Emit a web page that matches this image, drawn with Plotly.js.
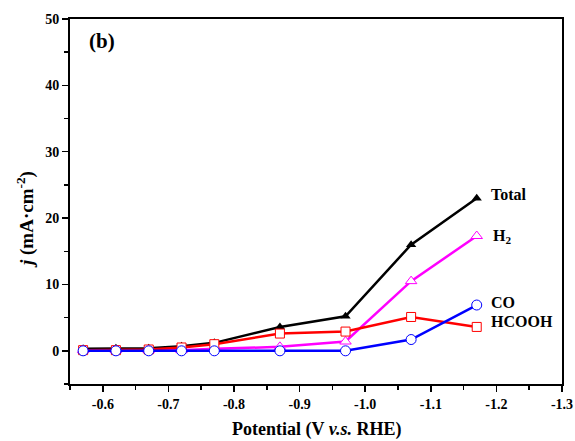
<!DOCTYPE html>
<html>
<head>
<meta charset="utf-8">
<script src="https://cdn.plot.ly/plotly-3.0.1.min.js"></script>
<style>html,body{margin:0;padding:0;background:#fff;}#chart{width:575px;height:441px;}</style>
</head>
<body>
<div id="chart"></div>
<script>
const potential = [-0.57, -0.62, -0.67, -0.72, -0.77, -0.87, -0.97, -1.07, -1.17];
const total = [0.3, 0.4, 0.4, 0.7, 1.2, 3.6, 5.2, 16.0, 23.0];
const h2 = [0.1, 0.1, 0.1, 0.1, 0.3, 0.6, 1.4, 10.5, 17.3];
const hcooh = [0.1, 0.1, 0.2, 0.5, 1.0, 2.6, 2.9, 5.1, 3.6];
const co = [0.0, 0.0, 0.0, 0.0, 0.0, 0.0, 0.0, 1.7, 6.9];
const seriesLabels = ["Total", "H<sub>2</sub>", "CO", "HCOOH"];
const xTicks = [-0.6, -0.7, -0.8, -0.9, -1.0, -1.1, -1.2, -1.3];
const xTickText = ["<b>-0.6</b>", "<b>-0.7</b>", "<b>-0.8</b>", "<b>-0.9</b>", "<b>-1.0</b>", "<b>-1.1</b>", "<b>-1.2</b>", "<b>-1.3</b>"];
const yTicks = [0, 10, 20, 30, 40, 50];
const yTickText = ["<b>0</b>", "<b>10</b>", "<b>20</b>", "<b>30</b>", "<b>40</b>", "<b>50</b>"];
const xTitle = "<b>Potential (V <i>v.s.</i> RHE)</b>";
const yTitle = "<b><i>j</i> (mA·cm<sup>-2</sup>)</b>";

const font = "Times New Roman, Liberation Serif, serif";
const traces = [
  {x: potential, y: total, mode: "lines+markers", line: {color: "#000000", width: 2.5},
   marker: {symbol: "triangle-up", size: 9, color: "#000000"}},
  {x: potential, y: h2, mode: "lines+markers", line: {color: "#ff00ff", width: 2.5},
   marker: {symbol: "triangle-up", size: 10, color: "#ffffff", line: {color: "#ff00ff", width: 1}}},
  {x: potential, y: hcooh, mode: "lines+markers", line: {color: "#ff0000", width: 2.5},
   marker: {symbol: "square", size: 9, color: "#ffffff", line: {color: "#ff0000", width: 1}}},
  {x: potential, y: co, mode: "lines+markers", line: {color: "#0000ff", width: 2.5},
   marker: {symbol: "circle", size: 10, color: "#ffffff", line: {color: "#0000ff", width: 1}}}
];

const labelX = [-1.1885, -1.1915, -1.189, -1.1885];
const labelY = [23.6, 17.2, 7.3, 4.4];
const annotations = seriesLabels.map((t, i) => ({
  x: labelX[i], y: labelY[i], xref: "x", yref: "y", text: "<b>" + t + "</b>",
  showarrow: false, xanchor: "left", yanchor: "middle",
  font: {family: font, size: 16, color: "#000"}
}));
annotations.push({x: -0.5755, y: 46.7, xref: "x", yref: "y", text: "<b>(b)</b>", showarrow: false,
  xanchor: "left", yanchor: "middle", font: {family: font, size: 21, color: "#000"}});
annotations.push({x: 0.5, y: -0.126, xref: "paper", yref: "paper", text: xTitle, showarrow: false,
  xanchor: "center", yanchor: "middle", font: {family: font, size: 18, color: "#000"}});
annotations.push({x: -0.0915, y: 0.452, xref: "paper", yref: "paper", text: yTitle, showarrow: false,
  textangle: -90, xanchor: "center", yanchor: "middle", font: {family: font, size: 19, color: "#000"}});

const layout = {
  width: 575, height: 441,
  margin: {l: 70, r: 13, t: 19, b: 57},
  paper_bgcolor: "#ffffff", plot_bgcolor: "#ffffff",
  showlegend: false,
  font: {family: font, color: "#000"},
  xaxis: {
    range: [-0.55, -1.3], autorange: false,
    tickvals: xTicks, ticktext: xTickText,
    ticks: "outside", ticklen: 6, tickwidth: 1.5, tickcolor: "#000",
    minor: {dtick: 0.05, tick0: -0.55, ticks: "outside", ticklen: 4, tickwidth: 1.5, tickcolor: "#000"},
    showline: true, linecolor: "#000", linewidth: 2, mirror: true,
    showgrid: false, zeroline: false,
    tickfont: {family: font, size: 14, color: "#000"}
  },
  yaxis: {
    range: [-5, 50], autorange: false,
    tickvals: yTicks, ticktext: yTickText,
    ticks: "outside", ticklen: 6, tickwidth: 1.5, tickcolor: "#000",
    minor: {dtick: 5, tick0: 0, ticks: "outside", ticklen: 4, tickwidth: 1.5, tickcolor: "#000"},
    showline: true, linecolor: "#000", linewidth: 2, mirror: true,
    showgrid: false, zeroline: false,
    tickfont: {family: font, size: 14, color: "#000"}
  },
  annotations: annotations
};

Plotly.newPlot("chart", traces, layout, {displayModeBar: false, staticPlot: true});
</script>
</body>
</html>
